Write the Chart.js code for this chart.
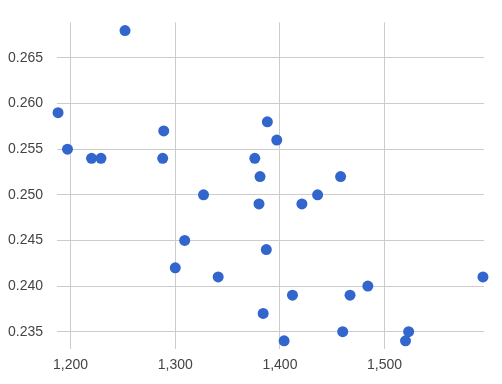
<!DOCTYPE html>
<html>
<head>
<meta charset="utf-8">
<script src="https://cdn.jsdelivr.net/npm/chart.js@4"></script>
<style>
  html, body { margin: 0; padding: 0; background: #fff; }
  #wrap { width: 502px; height: 384px; }
</style>
</head>
<body>
<div id="wrap"><canvas id="chart" width="502" height="384"></canvas></div>
<script>
// values
const xValues = [1252, 1188, 1197, 1220, 1229, 1289, 1288, 1327, 1309, 1300, 1341,
                 1388, 1397, 1376, 1381, 1458, 1380, 1421, 1436, 1387, 1412, 1384,
                 1404, 1467, 1484, 1460, 1523, 1520, 1594];
const yValues = [0.268, 0.259, 0.255, 0.254, 0.254, 0.257, 0.254, 0.250, 0.245, 0.242, 0.241,
                 0.258, 0.256, 0.254, 0.252, 0.252, 0.249, 0.249, 0.250, 0.244, 0.239, 0.237,
                 0.234, 0.239, 0.240, 0.235, 0.235, 0.234, 0.241];
const xTicks = [1200, 1300, 1400, 1500];
const yTicks = [0.235, 0.240, 0.245, 0.250, 0.255, 0.260, 0.265];

const points = xValues.map((x, i) => ({ x: x, y: yValues[i] }));

const font = { family: "'Liberation Sans', Arial, sans-serif", size: 14 };

new Chart(document.getElementById('chart'), {
    type: 'scatter',
    data: {
        datasets: [{
            data: points,
            backgroundColor: '#3366cc',
            borderColor: '#3366cc',
            borderWidth: 0,
            pointRadius: 5.5,
            pointHoverRadius: 5.5,
            clip: false
        }]
    },
    options: {
        responsive: false,
        animation: false,
        layout: { padding: { top: 22, right: 18, left: 0, bottom: 0 } },
        plugins: {
            legend: { display: false },
            tooltip: { enabled: false }
        },
        scales: {
            x: {
                type: 'linear',
                min: 1187,
                max: 1595,
                afterBuildTicks: function(scale) {
                    scale.ticks = xTicks.map(v => ({ value: v }));
                },
                afterFit: function(scale) { scale.height = 35; },
                border: { display: false },
                grid: { color: '#cccccc', drawTicks: false },
                ticks: {
                    font: font,
                    color: '#444444',
                    padding: 8,
                    maxRotation: 0,
                    callback: v => v.toLocaleString('en-US')
                }
            },
            y: {
                min: 0.2331,
                max: 0.2689,
                afterBuildTicks: function(scale) {
                    scale.ticks = yTicks.map(v => ({ value: v }));
                },
                afterFit: function(scale) { scale.width = 57; },
                border: { display: false },
                grid: { color: '#cccccc', drawTicks: false },
                ticks: {
                    font: font,
                    color: '#444444',
                    padding: 14,
                    callback: v => v.toFixed(3)
                }
            }
        }
    }
});
</script>
</body>
</html>
